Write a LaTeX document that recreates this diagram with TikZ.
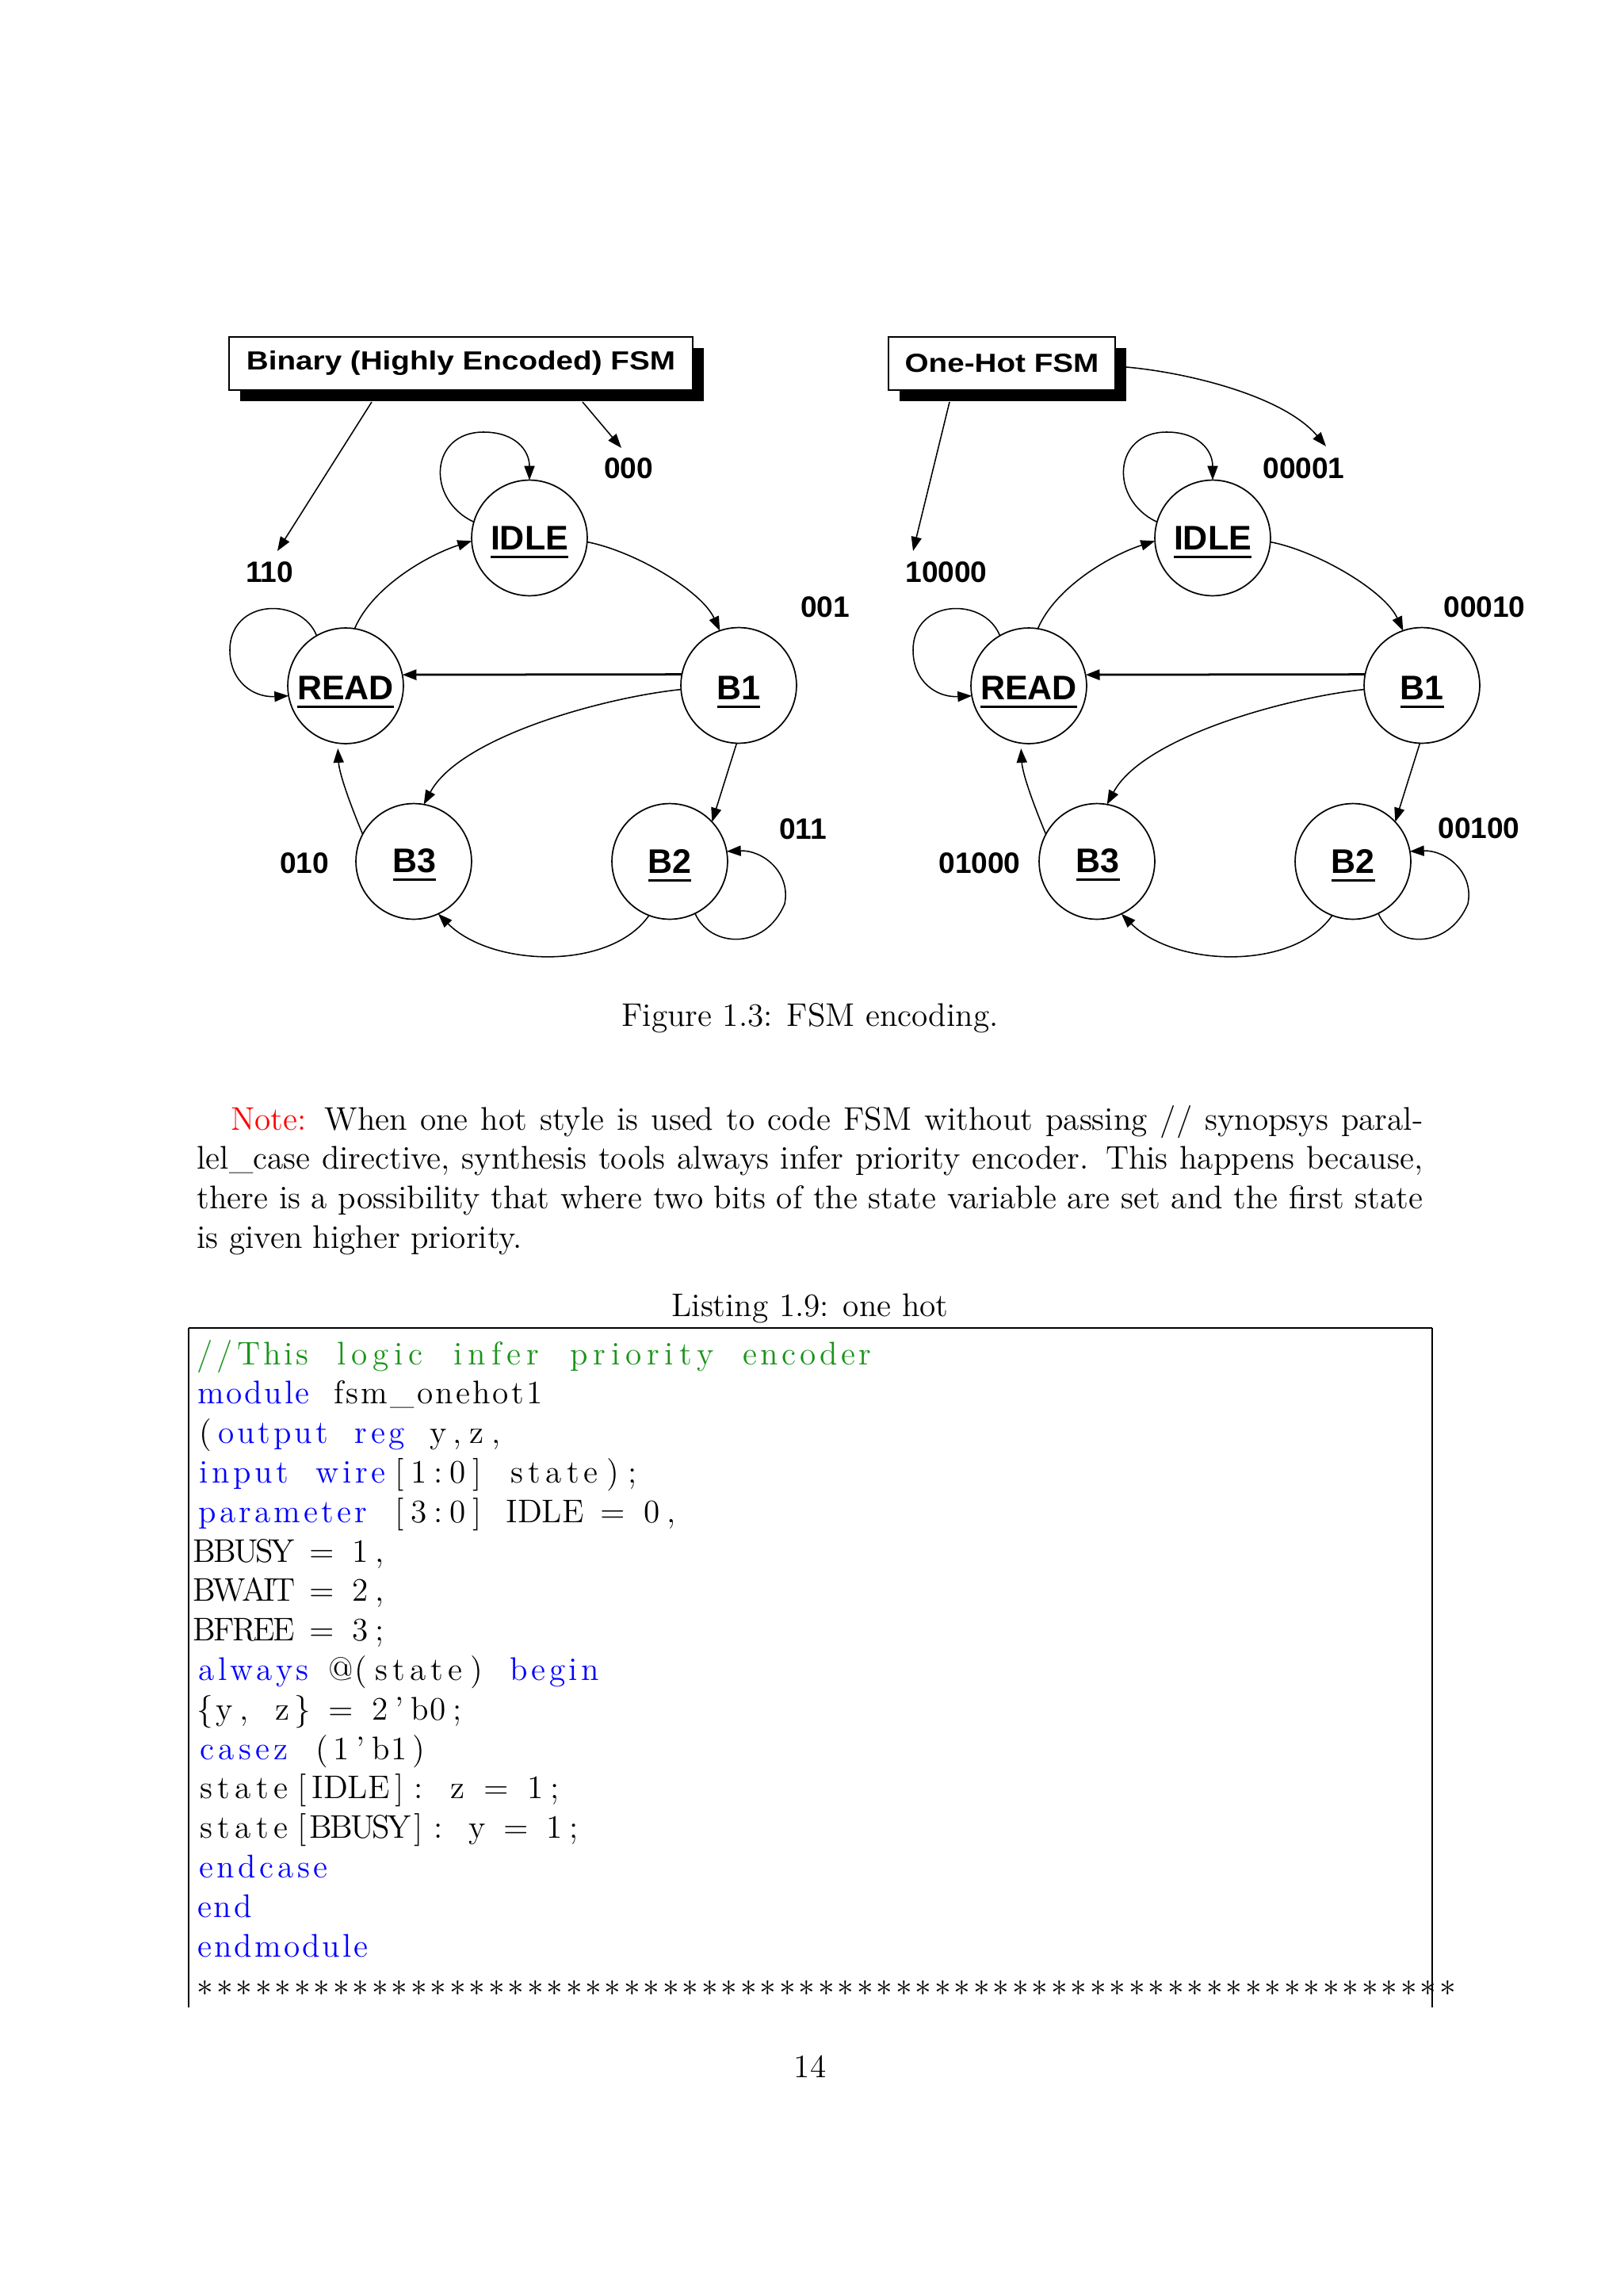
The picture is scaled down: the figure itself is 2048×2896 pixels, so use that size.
\documentclass[tikz,border=0pt]{standalone}
\usepackage{fontspec}
\usepackage{graphicx}
\usetikzlibrary{arrows.meta,shadows}
\newfontfamily\diagfont{Liberation Sans}
\definecolor{cmtgreen}{rgb}{0.1,0.58,0.1}
\ExplSyntaxOn
\dim_new:N \l_col_dim
\dim_set:Nn \l_col_dim {7.12pt}
\NewDocumentCommand\Lw{m}{\hbox_to_wd:nn {\tl_count:n {#1}\l_col_dim}{\hss\tl_map_inline:nn {#1}{##1\hss}}}
\NewDocumentCommand\Ls{}{\hbox_to_wd:nn {\l_col_dim}{}}
\NewDocumentCommand\astrow{m}{\prg_replicate:nn {#1} {\hbox_to_wd:nn {\l_col_dim}{\hss$\ast$\hss}}}
\ExplSyntaxOff
\newcommand\kw[1]{{\color{blue}\Lw{#1}}}
\newsavebox\ulbx
\newcommand\ulbar[1]{\sbox\ulbx{#1}\rlap{\rule[-3.3pt]{\wd\ulbx}{1.1pt}}\usebox\ulbx}
\newcommand\fsmcore{%
  \node[fsmstate] (idle) at (668,678.5) {};
  \node[fsmstate] (read) at (436,865) {};
  \node[fsmstate] (b1) at (932,864.5) {};
  \node[fsmstate] (b3) at (522,1086.5) {};
  \node[fsmstate] (b2) at (845,1086.5) {};
  \node[slab] (idleT) at (668,693) {\ulbar{IDLE}};
  \node[slab] (readT) at (436,882) {\ulbar{READ}};
  \node[slab] (b1T) at (932,882) {\ulbar{B1}};
  \node[slab] (b3T) at (523,1100) {\ulbar{B3}};
  \node[slab] (b2T) at (845,1101) {\ulbar{B2}};
  \draw[arr] (idle.164) .. controls (537,630) and (542,545) .. (610,545) .. controls (650,545) and (668,568) .. (idle.90);
  \draw[arr] (read.81) .. controls (470,740) and (540,700) .. (idle.183);
  \draw[arr] (idle.-4) .. controls (800,695) and (885,745) .. (b1.109);
  \draw[arr] (read.120) .. controls (380,752) and (290,755) .. (290,820) .. controls (290,860) and (320,880) .. (read.190);
  \draw[arr, line width=0.8pt] (b1.169) -- (read.11);
  \draw[arr] (b1.184) .. controls (760,880) and (580,930) .. (b3.80);
  \draw[arr] (b1.268) -- (b2.43);
  \draw[arr] (b2.-64) .. controls (895,1195) and (965,1200) .. (990,1140) .. controls (998,1100) and (962,1072) .. (b2.10);
  \draw[arr] (b2.249) .. controls (770,1225) and (620,1220) .. (b3.-65);
  \draw[arr, shorten >=2pt] (b3.152) .. controls (440,1010) and (428,975) .. (read.262);
}
\begin{document}
\begin{tikzpicture}[x=0.290662pt, y=-0.290662pt,
  fsmstate/.style={circle, draw, line width=0.5pt, minimum size=42.4pt, inner sep=0pt, outer sep=0pt},
  slab/.style={anchor=base, inner sep=0pt, font=\diagfont\bfseries\fontsize{12.5}{14}\selectfont},
  dlab/.style={inner sep=0pt, font=\diagfont\bfseries\fontsize{10.8}{12}\selectfont},
  arr/.style={line width=0.45pt, -{Triangle[length=5.2pt,width=3.8pt]}},
  titlebox/.style={draw, line width=0.6pt, fill=white, inner sep=0pt, minimum height=19.5pt,
    drop shadow={shadow xshift=4pt, shadow yshift=-4pt, fill=black, opacity=1},
    font=\diagfont\bfseries\fontsize{9.6}{11}\selectfont},
  body/.style={inner sep=0pt, font=\fontsize{12}{14.5}\selectfont},
  lst/.style={anchor=base west, inner sep=0pt, font=\fontsize{12}{14.5}\selectfont}]
\fill[white] (0,0) rectangle (2048,2896);
\useasboundingbox (0,0) rectangle (2048,2896);

% ---- titles
\node[titlebox, minimum width=170.0pt] (titleL) at (581.5,458.5) {\scalebox{1.17}[1]{Binary (Highly Encoded) FSM}};
\node[titlebox, minimum width=83.1pt] (titleR) at (1264,458.5) {\scalebox{1.17}[1]{One-Hot FSM}};

% ---- FSMs
\begin{scope}[name prefix=L-]
\fsmcore
\end{scope}
\begin{scope}[shift={(862,0)}, name prefix=R-]
\fsmcore
\end{scope}

% ---- code labels
\node[dlab] (c000) at (793,591) {000};
\node[dlab] (c110) at (340,722) {110};
\node[dlab] (c001) at (1041,766) {001};
\node[dlab] (c011) at (1013,1046) {011};
\node[dlab] (c010) at (384,1089) {010};
\node[dlab] (c00001) at (1645,591) {00001};
\node[dlab] (c10000) at (1194,722) {10000};
\node[dlab] (c00010) at (1873,766) {00010};
\node[dlab] (c00100) at (1866,1045) {00100};
\node[dlab] (c01000) at (1236,1089) {01000};

% ---- title arrows
\coordinate (tL1) at (469,507);
\coordinate (tL2) at (735,507);
\coordinate (pL1) at (350,695);
\coordinate (pL2) at (784,565);
\coordinate (tR1) at (1198,507);
\coordinate (tR2) at (1421,463);
\coordinate (pR1) at (1152,695);
\coordinate (pR2) at (1673,563);
\draw[arr] (tL1) -- (pL1);
\draw[arr] (tL2) -- (pL2);
\draw[arr] (tR1) -- (pR1);
\draw[arr] (tR2) .. controls (1500,470) and (1620,500) .. (pR2);

% ---- captions and text
\node[body, anchor=base] (fig) at (1022,1294) {Figure 1.3: FSM encoding.};
\node[body, anchor=base west] (p1) at (248,1425) {\makebox[449.6pt][s]{\hspace*{12.3pt}\textcolor{red}{Note:} When one hot style is used to code FSM without passing // synopsys paral-}};
\node[body, anchor=base west] (p2) at (248,1474.7) {\makebox[449.6pt][s]{lel\_case directive, synthesis tools always infer priority encoder. This happens because,}};
\node[body, anchor=base west] (p3) at (248,1524.4) {\makebox[449.6pt][s]{there is a possibility that where two bits of the state variable are set and the first state}};
\node[body, anchor=base west] (p4) at (248,1574) {is given higher priority.};
\node[body, anchor=base] (lcap) at (1022,1660) {Listing 1.9: one hot};

% ---- listing frame
\draw[line width=0.7pt] (238,1675) -- (1807,1675);
\draw[line width=0.45pt] (238,1675) -- (238,2532);
\draw[line width=0.45pt] (1807,1675) -- (1807,2532);

% ---- listing
\node[lst] (l1) at (246,1721) {{\color{cmtgreen}\Lw{/}\Lw{/}\Lw{This}\Ls\Lw{logic}\Ls\Lw{infer}\Ls\Lw{priority}\Ls\Lw{encoder}}};
\node[lst] (l2) at (246,1770.8) {\kw{module}\Ls\Lw{fsm\_onehot1}};
\node[lst] (l3) at (246,1820.6) {\Lw{(}\kw{output}\Ls\kw{reg}\Ls\Lw{y}\Lw{,}\Lw{z}\Lw{,}};
\node[lst] (l4) at (246,1870.4) {\kw{input}\Ls\kw{wire}\Lw{[}\Lw{1}\Lw{:}\Lw{0}\Lw{]}\Ls\Lw{state}\Lw{)}\Lw{;}};
\node[lst] (l5) at (246,1920.2) {\kw{parameter}\Ls\Lw{[}\Lw{3}\Lw{:}\Lw{0}\Lw{]}\Ls\Lw{IDLE}\Ls\Lw{=}\Ls\Lw{0}\Lw{,}};
\node[lst] (l6) at (246,1970) {\Lw{BBUSY}\Ls\Lw{=}\Ls\Lw{1}\Lw{,}};
\node[lst] (l7) at (246,2019.8) {\Lw{BWAIT}\Ls\Lw{=}\Ls\Lw{2}\Lw{,}};
\node[lst] (l8) at (246,2069.6) {\Lw{BFREE}\Ls\Lw{=}\Ls\Lw{3}\Lw{;}};
\node[lst] (l9) at (246,2119.4) {\kw{always}\Ls\Lw{@}\Lw{(}\Lw{state}\Lw{)}\Ls\kw{begin}};
\node[lst] (l10) at (246,2169.2) {\Lw{\{}\Lw{y}\Lw{,}\Ls\Lw{z}\Lw{\}}\Ls\Lw{=}\Ls\Lw{2}\Lw{\textquoteright}\Lw{b0}\Lw{;}};
\node[lst] (l11) at (246,2219) {\kw{casez}\Ls\Lw{(}\Lw{1}\Lw{\textquoteright}\Lw{b1}\Lw{)}};
\node[lst] (l12) at (246,2268.8) {\Lw{state}\Lw{[}\Lw{IDLE}\Lw{]}\Lw{:}\Ls\Lw{z}\Ls\Lw{=}\Ls\Lw{1}\Lw{;}};
\node[lst] (l13) at (246,2318.6) {\Lw{state}\Lw{[}\Lw{BBUSY}\Lw{]}\Lw{:}\Ls\Lw{y}\Ls\Lw{=}\Ls\Lw{1}\Lw{;}};
\node[lst] (l14) at (246,2368.4) {\kw{endcase}};
\node[lst] (l15) at (246,2418.2) {\kw{end}};
\node[lst] (l16) at (246,2468) {\kw{endmodule}};
\node[lst] (l17) at (246,2517.8) {\astrow{65}};

\node[body, anchor=base] (pageno) at (1022,2620) {14};
\end{tikzpicture}
\end{document}
